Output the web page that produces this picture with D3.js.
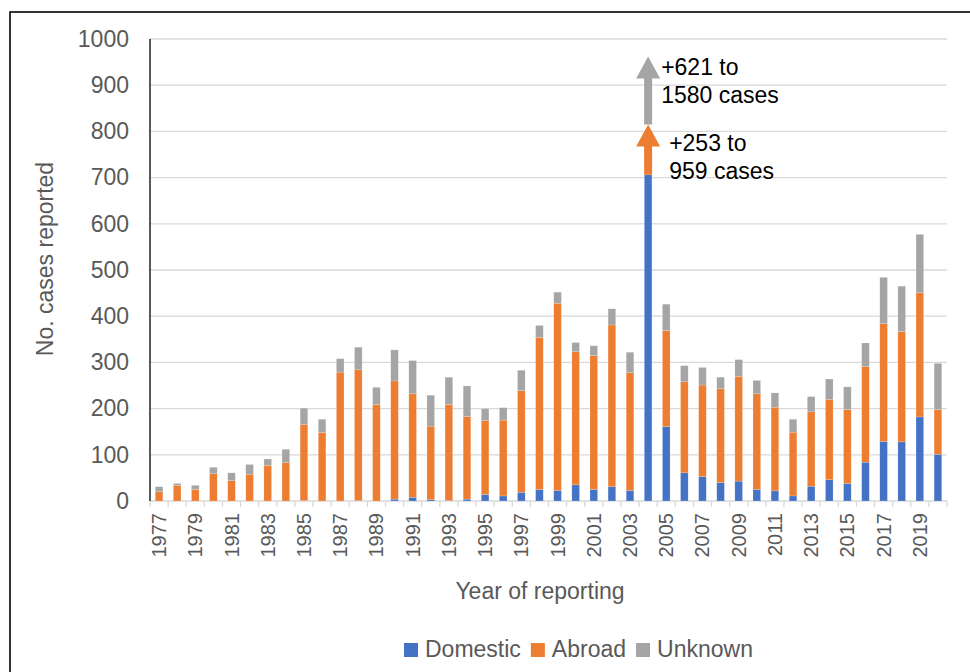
<!DOCTYPE html>
<html>
<head>
<meta charset="utf-8">
<script src="https://cdn.jsdelivr.net/npm/d3@7"></script>
<style>
  body { margin: 0; background: #fff; }
  text { font-family: "Liberation Sans", Arial, Helvetica, sans-serif; }
  .tick-label { fill: #595959; font-size: 23px; }
  .x-label { fill: #595959; font-size: 20px; }
  .title { fill: #595959; font-size: 23px; }
  .note { fill: #000; font-size: 23px; }
</style>
</head>
<body>
<svg class="scene"></svg>
<script>

//
// data
//

var years = d3.range(1977, 2021);

var domestic = [0, 0, 0, 0, 0, 0, 0, 0, 1, 0,
                0, 1, 0, 4, 8, 3, 1, 4, 14, 11,
                19, 25, 23, 35, 25, 31, 23, 706, 161, 61,
                53, 40, 43, 25, 22, 11, 32, 46, 38, 84,
                129, 128, 182, 101];

var abroad = [20, 34, 25, 59, 44, 58, 77, 83, 165, 148,
              279, 283, 209, 256, 224, 159, 208, 179, 160, 164,
              220, 329, 405, 288, 290, 350, 255, 253, 208, 197,
              198, 203, 227, 207, 181, 138, 161, 174, 160, 207,
              255, 239, 269, 97];

var unknown = [11, 4, 9, 14, 17, 21, 14, 29, 35, 29,
               29, 49, 37, 67, 72, 67, 59, 66, 26, 27,
               44, 26, 24, 20, 21, 35, 44, 621, 57, 35,
               38, 25, 36, 29, 31, 28, 33, 44, 49, 51,
               100, 98, 126, 100];

var series = ["Domestic", "Abroad", "Unknown"];
var colors = ["#4472C4", "#ED7D31", "#A5A5A5"];
var y_ticks = [0, 100, 200, 300, 400, 500, 600, 700, 800, 900, 1000];

// the 2004 outbreak runs off the chart; arrows stand in for the rest
var peak_year = 2004;
var peak_arrows = [
    { series: "Abroad", from: 706, to: 815, lines: ["+253 to", "959 cases"] },
    { series: "Unknown", from: 815, to: 962, lines: ["+621 to", "1580 cases"] }
];

//
// scene
//

var width = 970,
    height = 672;

var margin = { left: 150, right: 23, top: 39, bottom: 171 };

var svg = d3.select(".scene")
    .attr("width", width)
    .attr("height", height);

svg.append("rect")
    .attr("x", 10)
    .attr("y", 12)
    .attr("width", width + 20)
    .attr("height", height + 20)
    .attr("fill", "none")
    .attr("stroke", "#000")
    .attr("stroke-width", 1.6);

var x = d3.scaleBand()
    .domain(years)
    .range([margin.left, width - margin.right])
    .paddingInner(0.58)
    .paddingOuter(0.29);

var y = d3.scaleLinear()
    .domain([0, 1000])
    .range([height - margin.bottom, margin.top]);

//
// grid and axes
//

svg.append("g")
    .selectAll("line")
    .data(y_ticks)
    .enter().append("line")
    .attr("x1", margin.left)
    .attr("x2", width - margin.right)
    .attr("y1", function (d) { return y(d); })
    .attr("y2", function (d) { return y(d); })
    .attr("stroke", "#d9d9d9")
    .attr("stroke-width", 1.3);

var yAxis = svg.append("g")
    .attr("transform", "translate(" + margin.left + ",0)")
    .call(d3.axisLeft(y).tickValues(y_ticks).tickFormat(d3.format("d"))
        .tickSize(0).tickPadding(21));
yAxis.select(".domain").remove();
yAxis.selectAll("text")
    .attr("class", "tick-label")
    .attr("font-family", null)
    .attr("font-size", null)
    .attr("fill", null);

// category boundary ticks under the baseline
var step = x.step();
svg.append("g")
    .selectAll("line")
    .data(d3.range(years.length + 1))
    .enter().append("line")
    .attr("x1", function (i) { return margin.left + i * step; })
    .attr("x2", function (i) { return margin.left + i * step; })
    .attr("y1", y(0))
    .attr("y2", y(0) + 6)
    .attr("stroke", "#d9d9d9")
    .attr("stroke-width", 1.3);

svg.append("g")
    .selectAll("text")
    .data(years.filter(function (d) { return d % 2 === 1; }))
    .enter().append("text")
    .attr("class", "x-label")
    .attr("text-anchor", "end")
    .attr("dy", "0.35em")
    .attr("transform", function (d) {
        return "translate(" + (x(d) + x.bandwidth() / 2) + "," + (y(0) + 12) + ") rotate(-90)";
    })
    .text(function (d) { return d; });

//
// bars
//

var rows = years.map(function (yr, i) {
    return { year: yr, Domestic: domestic[i], Abroad: abroad[i], Unknown: unknown[i] };
});

var stacked = d3.stack().keys(series)(rows);

svg.append("g")
    .selectAll("g")
    .data(stacked)
    .enter().append("g")
    .attr("fill", function (d, i) { return colors[i]; })
    .selectAll("rect")
    .data(function (d) {
        return d.filter(function (p) { return p.data.year !== peak_year || d.key === "Domestic"; });
    })
    .enter().append("rect")
    .attr("x", function (d) { return x(d.data.year); })
    .attr("y", function (d) { return y(d[1]); })
    .attr("width", x.bandwidth())
    .attr("height", function (d) { return y(d[0]) - y(d[1]); })
    .attr("stroke", "#fff")
    .attr("stroke-opacity", 0.35)
    .attr("stroke-width", 0.5);

// y axis line drawn over the bars
svg.append("line")
    .attr("x1", margin.left)
    .attr("x2", margin.left)
    .attr("y1", y(1000))
    .attr("y2", y(0))
    .attr("stroke", "#000")
    .attr("stroke-width", 1.3);

//
// off-scale arrows for 2004
//

var cx = x(peak_year) + x.bandwidth() / 2;
var shaft = 4,
    head = 12,
    head_len = 22;

peak_arrows.forEach(function (a, k) {
    var col = colors[series.indexOf(a.series)];
    var y0 = y(a.from), y1 = y(a.to), yh = y1 + head_len;
    svg.append("path")
        .attr("d", "M" + (cx - shaft) + "," + y0 +
            "L" + (cx - shaft) + "," + yh +
            "L" + (cx - head) + "," + yh +
            "L" + cx + "," + y1 +
            "L" + (cx + head) + "," + yh +
            "L" + (cx + shaft) + "," + yh +
            "L" + (cx + shaft) + "," + y0 + "Z")
        .attr("fill", col);

    var tx = k === 0 ? cx + 21 : cx + 13;
    var ty = k === 0 ? 151 : 75;
    a.lines.forEach(function (line, j) {
        svg.append("text")
            .attr("class", "note")
            .attr("x", tx)
            .attr("y", ty + j * 27.5)
            .text(line);
    });
});

//
// titles
//

svg.append("text")
    .attr("class", "title")
    .attr("text-anchor", "middle")
    .attr("transform", "translate(53,259) rotate(-90)")
    .text("No. cases reported");

svg.append("text")
    .attr("class", "title")
    .attr("text-anchor", "middle")
    .attr("x", 540)
    .attr("y", 599)
    .text("Year of reporting");

//
// legend
//

var legend = svg.append("g");
var lx = 404;
series.forEach(function (s, i) {
    legend.append("rect")
        .attr("x", lx)
        .attr("y", 643)
        .attr("width", 14)
        .attr("height", 14)
        .attr("fill", colors[i]);
    var t = legend.append("text")
        .attr("class", "title")
        .attr("x", lx + 21)
        .attr("y", 657)
        .text(s);
    lx += 21 + t.node().getComputedTextLength() + 10;
});

</script>
</body>
</html>
